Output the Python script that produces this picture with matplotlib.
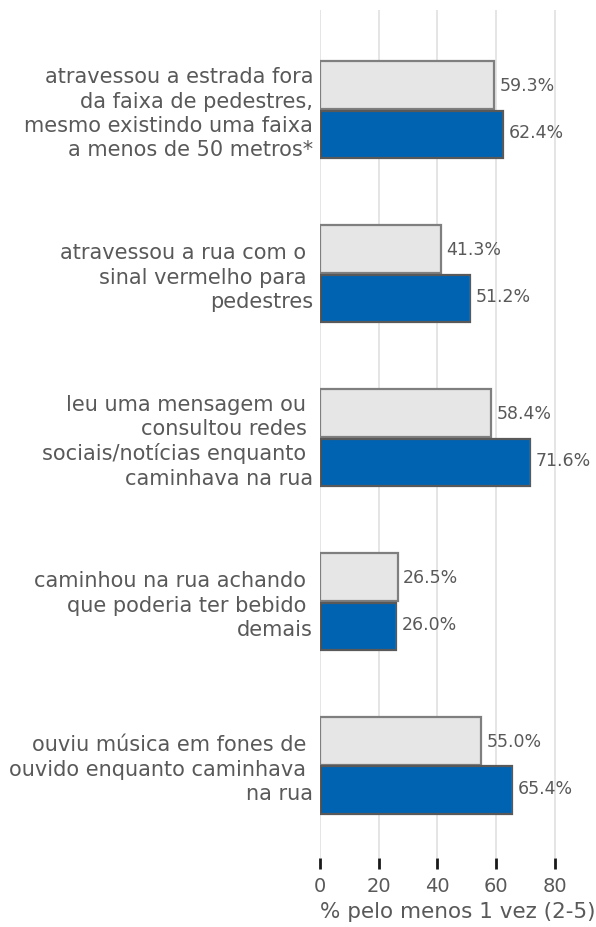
import matplotlib
matplotlib.use("Agg")
import matplotlib.pyplot as plt
import numpy as np

categories = [
    "atravessou a estrada fora\nda faixa de pedestres,\nmesmo existindo uma faixa\na menos de 50 metros*",
    "atravessou a rua com o \nsinal vermelho para \npedestres",
    "leu uma mensagem ou \nconsultou redes \nsociais/notícias enquanto \ncaminhava na rua",
    "caminhou na rua achando \nque poderia ter bebido \ndemais",
    "ouviu música em fones de \nouvido enquanto caminhava \nna rua",
]
grey_vals = [59.3, 41.3, 58.4, 26.5, 55.0]
blue_vals = [62.4, 51.2, 71.6, 26.0, 65.4]
xticks = [0, 20, 40, 60, 80]
xlabel = "% pelo menos 1 vez (2-5)"

TXT = "#595959"
plt.rcParams["font.family"] = ["DejaVu Sans"]

fig = plt.figure(figsize=(5.96, 9.27), dpi=100)
ax = fig.add_axes([320 / 596, 1 - 858 / 927, 1 - 320 / 596, 848 / 927])

y = np.arange(len(categories))
h = 0.287
ax.barh(y - h / 2 - 0.006, grey_vals, height=h, color="#e6e6e6",
        edgecolor="#7f7f7f", linewidth=1.6, zorder=3)
ax.barh(y + h / 2 + 0.006, blue_vals, height=h, color="#0063b1",
        edgecolor="#595959", linewidth=1.6, zorder=3)

for i in range(len(y)):
    ax.text(grey_vals[i] + 1.8, y[i] - h / 2, f"{grey_vals[i]:.1f}%",
            va="center", ha="left", fontsize=12.5, color=TXT)
    ax.text(blue_vals[i] + 1.8, y[i] + h / 2, f"{blue_vals[i]:.1f}%",
            va="center", ha="left", fontsize=12.5, color=TXT)

ax.set_ylim(len(y) - 1 + 0.564, -0.607)
ax.set_xlim(0, 94)
ax.set_yticks(y)
ax.set_yticklabels(categories, fontsize=15, color=TXT, ha="right",
                   multialignment="right", linespacing=1.27)
ax.tick_params(axis="y", length=0, pad=5)
ax.set_xticks(xticks)
ax.tick_params(axis="x", labelsize=14, colors="#1a1a1a", length=8, width=2,
               direction="out", pad=6)
for t in ax.get_xticklabels():
    t.set_color(TXT)
ax.set_xlabel(xlabel, fontsize=15.5, color=TXT, loc="left")
ax.xaxis.set_label_coords(0, -0.052, transform=ax.transAxes)
ax.grid(axis="x", color="#e0e0e0", linewidth=1.2, zorder=0)
for s in ax.spines.values():
    s.set_visible(False)

fig.savefig("out.png", dpi=100)
